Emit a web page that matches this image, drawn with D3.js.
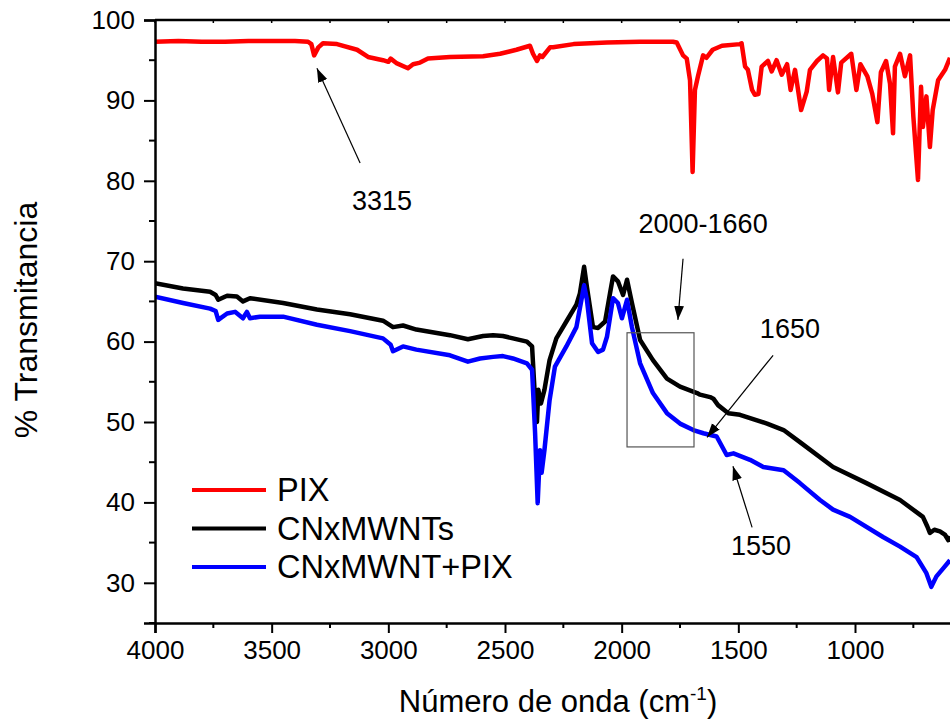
<!DOCTYPE html>
<html>
<head>
<meta charset="utf-8">
<title>FTIR</title>
<script src="https://cdn.jsdelivr.net/npm/d3@7/dist/d3.min.js"></script>
<style>
    body { margin: 0; background: #ffffff; }
    svg { display: block; font-family: "Liberation Sans", Arial, sans-serif; }
</style>
</head>
<body>
<svg id="chart" width="950" height="721"></svg>
<script>
// PIX (red)
var pixWn = [4000, 3900, 3800, 3700, 3600, 3500, 3400, 3344, 3330, 3318, 3300, 3280, 3220, 3134, 3087, 3023, 3000, 2990, 2963, 2916, 2894, 2864, 2830, 2736, 2594, 2521, 2451, 2393, 2380, 2363, 2350, 2340, 2307, 2294, 2206, 2063, 1921, 1780, 1764, 1737, 1721, 1707, 1696, 1686, 1673, 1651, 1637, 1610, 1570, 1493, 1486, 1471, 1459, 1441, 1429, 1414, 1400, 1373, 1357, 1336, 1314, 1291, 1276, 1257, 1231, 1207, 1193, 1163, 1137, 1120, 1111, 1094, 1073, 1059, 1016, 994, 977, 947, 926, 904, 889, 867, 850, 837, 829, 807, 786, 764, 750, 730, 717, 709, 694, 679, 667, 644, 614, 593];
var pixT = [97.3, 97.4, 97.3, 97.3, 97.4, 97.4, 97.4, 97.3, 97.0, 95.6, 96.6, 97.1, 97.0, 96.3, 95.4, 95.0, 94.8, 95.2, 94.6, 94.0, 94.5, 94.7, 95.2, 95.4, 95.5, 95.8, 96.3, 96.8, 95.8, 94.9, 95.6, 95.4, 96.6, 96.6, 97.0, 97.2, 97.3, 97.3, 97.2, 95.6, 95.2, 92.5, 81.1, 91.3, 93.0, 95.6, 95.3, 96.3, 96.8, 97.0, 97.1, 94.2, 93.8, 91.3, 90.7, 90.8, 94.2, 94.9, 93.6, 95.0, 93.2, 94.5, 91.3, 93.8, 88.8, 91.1, 93.8, 94.9, 95.6, 95.2, 91.3, 95.4, 91.0, 94.7, 95.8, 91.3, 94.5, 93.0, 90.8, 87.3, 93.5, 94.9, 92.1, 85.9, 94.2, 95.8, 93.0, 95.6, 88.0, 80.1, 91.7, 86.7, 90.5, 84.2, 88.8, 92.5, 93.8, 95.3];

// CNxMWNTs (black)
var cnxWn = [4000, 3880, 3764, 3740, 3729, 3691, 3649, 3623, 3593, 3451, 3306, 3164, 3023, 2980, 2937, 2880, 2736, 2659, 2594, 2551, 2509, 2466, 2406, 2384, 2371, 2363, 2357, 2346, 2331, 2309, 2280, 2237, 2194, 2179, 2161, 2149, 2123, 2101, 2071, 2050, 2037, 2016, 1994, 1977, 1956, 1921, 1866, 1806, 1750, 1677, 1664, 1621, 1607, 1587, 1543, 1493, 1377, 1306, 1236, 1094, 951, 807, 709, 690, 679, 660, 636, 615, 600, 593];
var cnxT = [67.25, 66.6, 66.2, 65.8, 65.2, 65.7, 65.6, 65.0, 65.4, 64.8, 64.0, 63.4, 62.6, 61.8, 62.0, 61.5, 60.8, 60.3, 60.7, 60.8, 60.7, 60.4, 60.0, 59.4, 52.7, 50.0, 54.0, 52.3, 54.0, 57.7, 60.4, 62.5, 64.6, 66.0, 69.3, 66.8, 61.8, 61.7, 62.5, 66.0, 68.1, 67.5, 65.8, 67.7, 64.8, 60.2, 57.7, 55.4, 54.4, 53.6, 53.4, 53.1, 52.9, 52.1, 51.1, 50.9, 49.8, 49.0, 47.5, 44.4, 42.4, 40.3, 38.2, 37.0, 36.2, 36.6, 36.4, 36.0, 35.3, 35.8];

// CNxMWNT+PIX (blue)
var mixWn = [4000, 3880, 3764, 3740, 3729, 3691, 3657, 3623, 3606, 3593, 3550, 3451, 3306, 3164, 3023, 2990, 2980, 2937, 2880, 2736, 2659, 2607, 2551, 2509, 2466, 2406, 2384, 2371, 2360, 2350, 2343, 2331, 2309, 2286, 2237, 2194, 2161, 2149, 2127, 2101, 2080, 2063, 2037, 2016, 1999, 1977, 1956, 1921, 1866, 1806, 1750, 1693, 1650, 1593, 1550, 1521, 1450, 1393, 1306, 1236, 1150, 1094, 1021, 880, 807, 736, 694, 673, 651, 622, 593];
var mixT = [65.6, 64.8, 64.1, 63.8, 62.7, 63.5, 63.7, 62.9, 63.7, 62.9, 63.1, 63.1, 62.1, 61.3, 60.4, 59.6, 58.8, 59.4, 59.0, 58.3, 57.5, 57.9, 58.1, 58.2, 57.9, 57.3, 56.5, 48.6, 39.9, 46.5, 43.7, 46.5, 52.7, 56.9, 59.4, 61.8, 67.0, 65.2, 59.8, 58.7, 59.0, 60.6, 65.4, 64.8, 62.9, 65.2, 61.8, 57.3, 53.6, 51.1, 49.8, 49.0, 48.6, 48.2, 45.9, 46.1, 45.3, 44.4, 44.0, 42.4, 40.3, 39.1, 38.2, 35.7, 34.5, 33.2, 31.2, 29.5, 30.8, 31.8, 32.8];

var seriesNames = ["PIX", "CNxMWNTs", "CNxMWNT+PIX"];
var xTicks = [4000, 3500, 3000, 2500, 2000, 1500, 1000];
var yTicks = [30, 40, 50, 60, 70, 80, 90, 100];

// annotations in data units: label, text pos, arrow tail, arrow tip
var noteLabels = ["3315", "2000-1660", "1650", "1550"];
var noteText = [[3027, 76.4], [1651, 73.5], [1279, 60.4], [1403, 33.5]];
var noteFrom = [[3121, 82.2], [1737, 70.3], [1351, 58.3], [1441, 36.9]];
var noteTo = [[3306, 94.0], [1759, 62.7], [1634, 48.1], [1523, 44.5]];
var boxRange = [[1977, 1690], [61.1, 46.9]];

(function(d3) {
    var opts = {
        left: 155,
        top: 20,
        bottom: 623,
        right: 995,
        width: 950,
        colors: ["#ff0000", "#000000", "#0000ff"]
    };

    var svg = d3.select("#chart");

    var x = d3.scaleLinear().domain([4000, 400]).range([opts.left, opts.right]);
    var y = d3.scaleLinear().domain([25, 100]).range([opts.bottom, opts.top]);

    var defs = svg.append("defs");
    defs.append("clipPath").attr("id", "plotclip")
        .append("rect")
        .attr("x", opts.left).attr("y", opts.top)
        .attr("width", opts.right - opts.left)
        .attr("height", opts.bottom - opts.top);

    defs.append("marker")
        .attr("id", "head")
        .attr("viewBox", "0 0 10 10")
        .attr("refX", 10).attr("refY", 5)
        .attr("markerWidth", 14).attr("markerHeight", 14)
        .attr("markerUnits", "userSpaceOnUse")
        .attr("orient", "auto")
        .append("path")
        .attr("d", "M0,1.5 L10,5 L0,8.5 Z")
        .attr("fill", "#000");

    // curves
    var line = d3.line()
        .x(function(d) { return x(d[0]); })
        .y(function(d) { return y(d[1]); });

    var series = [
        {name: seriesNames[1], color: opts.colors[1], pts: d3.zip(cnxWn, cnxT)},
        {name: seriesNames[2], color: opts.colors[2], pts: d3.zip(mixWn, mixT)},
        {name: seriesNames[0], color: opts.colors[0], pts: d3.zip(pixWn, pixT)}
    ];

    svg.append("g").attr("clip-path", "url(#plotclip)")
        .selectAll(".curve").data(series).enter()
        .append("path")
        .attr("class", "curve")
        .attr("d", function(d) { return line(d.pts); })
        .attr("fill", "none")
        .attr("stroke", function(d) { return d.color; })
        .attr("stroke-width", 4.5)
        .attr("stroke-linejoin", "round");

    // axes
    var xAxis = svg.append("g")
        .attr("transform", "translate(0," + opts.bottom + ")")
        .call(d3.axisBottom(x).tickValues(xTicks).tickSize(10).tickPadding(8).tickFormat(d3.format("d")));
    xAxis.append("g").selectAll("line").data(d3.range(3750, 400, -500)).enter()
        .append("line")
        .attr("x1", function(d) { return x(d); }).attr("x2", function(d) { return x(d); })
        .attr("y1", 0).attr("y2", 5)
        .attr("stroke", "#000").attr("stroke-width", 2);

    var yAxis = svg.append("g")
        .attr("transform", "translate(" + opts.left + ",0)")
        .call(d3.axisLeft(y).tickValues(yTicks).tickSize(11).tickPadding(9));
    yAxis.append("g").selectAll("line").data(d3.range(25, 100, 10)).enter()
        .append("line")
        .attr("y1", function(d) { return y(d); }).attr("y2", function(d) { return y(d); })
        .attr("x1", 0).attr("x2", -6)
        .attr("stroke", "#000").attr("stroke-width", 2);

    svg.selectAll(".domain").attr("stroke", "#000").attr("stroke-width", 2.5);
    svg.selectAll(".tick line").attr("stroke", "#000").attr("stroke-width", 2);
    svg.selectAll(".tick text")
        .attr("font-size", "26px")
        .attr("font-family", "Liberation Sans, Arial, sans-serif")
        .attr("fill", "#000");

    // top frame with inner ticks
    svg.append("line")
        .attr("x1", opts.left).attr("x2", opts.width)
        .attr("y1", opts.top).attr("y2", opts.top)
        .attr("stroke", "#000").attr("stroke-width", 2.5);
    svg.append("g").selectAll("line").data(d3.range(4000, 400, -250)).enter()
        .append("line")
        .attr("x1", function(d) { return x(d); }).attr("x2", function(d) { return x(d); })
        .attr("y1", opts.top).attr("y2", opts.top + 3)
        .attr("stroke", "#000").attr("stroke-width", 1.5);

    // axis titles
    var xt = svg.append("text")
        .attr("x", 558).attr("y", 712)
        .attr("text-anchor", "middle")
        .attr("font-size", "31px")
        .attr("fill", "#000")
        .text("Número de onda (cm");
    xt.append("tspan").attr("dy", -12).attr("font-size", "19px").text("-1");
    xt.append("tspan").attr("dy", 12).text(")");

    svg.append("text")
        .attr("transform", "translate(37,320) rotate(-90)")
        .attr("text-anchor", "middle")
        .attr("font-size", "32px")
        .attr("fill", "#000")
        .text("% Transmitancia");

    // highlighted region
    svg.append("rect")
        .attr("x", x(boxRange[0][0])).attr("y", y(boxRange[1][0]))
        .attr("width", x(boxRange[0][1]) - x(boxRange[0][0]))
        .attr("height", y(boxRange[1][1]) - y(boxRange[1][0]))
        .attr("fill", "none")
        .attr("stroke", "#555")
        .attr("stroke-width", 1.2);

    // annotations
    var notes = noteLabels.map(function(label, i) {
        return {label: label, text: noteText[i], from: noteFrom[i], to: noteTo[i]};
    });

    svg.selectAll(".note-arrow").data(notes).enter()
        .append("line")
        .attr("class", "note-arrow")
        .attr("x1", function(d) { return x(d.from[0]); })
        .attr("y1", function(d) { return y(d.from[1]); })
        .attr("x2", function(d) { return x(d.to[0]); })
        .attr("y2", function(d) { return y(d.to[1]); })
        .attr("stroke", "#000")
        .attr("stroke-width", 1.2)
        .attr("marker-end", "url(#head)");

    svg.selectAll(".note-text").data(notes).enter()
        .append("text")
        .attr("class", "note-text")
        .attr("x", function(d) { return x(d.text[0]); })
        .attr("y", function(d) { return y(d.text[1]); })
        .attr("text-anchor", "middle")
        .attr("font-size", "27px")
        .attr("fill", "#000")
        .text(function(d) { return d.label; });

    // legend
    var legend = svg.append("g").attr("transform", "translate(192,490)");
    var items = legend.selectAll(".item").data(seriesNames).enter()
        .append("g")
        .attr("class", "item")
        .attr("transform", function(d, i) { return "translate(0," + (i * 38.5) + ")"; });
    items.append("line")
        .attr("x1", 0).attr("x2", 74)
        .attr("stroke", function(d, i) { return opts.colors[i]; })
        .attr("stroke-width", 4);
    items.append("text")
        .attr("x", 85).attr("y", 11)
        .attr("font-size", "32.5px")
        .attr("fill", "#000")
        .text(function(d) { return d; });
})(d3);
</script>
</body>
</html>
